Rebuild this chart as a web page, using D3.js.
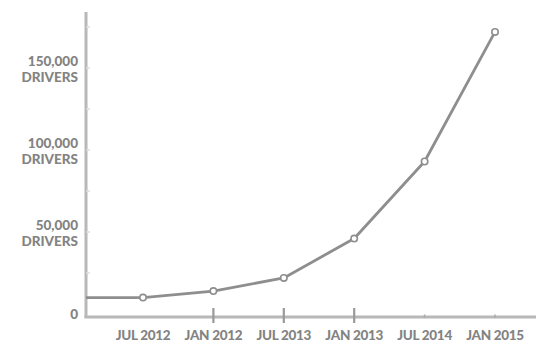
<!DOCTYPE html>
<html>
<head>
<meta charset="utf-8">
<script src="https://cdn.jsdelivr.net/npm/d3@7"></script>
<style>
  html, body { margin: 0; padding: 0; background: #fff; }
  svg { display: block; }
  .lbl { font-family: Lato, "Open Sans", sans-serif; font-weight: 900; fill: #838383; }
</style>
</head>
<body>
<svg id="chart" width="536" height="342"></svg>
<script>
// Driver counts by period
const periods = ["JUL 2012", "JAN 2012", "JUL 2013", "JAN 2013", "JUL 2014", "JAN 2015"];
const drivers = [10000, 14000, 22000, 46000, 93000, 172000];
const yTickValues = [0, 50000, 100000, 150000];
const yMinorTicks = [25000, 50000, 75000, 100000, 125000, 150000, 175000];
const majorXTicks = ["JAN 2012", "JUL 2013", "JAN 2013"];
const minorXTicks = ["JUL 2014", "JAN 2015"];

const svg = d3.select("#chart");
const axisX = 86, axisBottom = 317, axisTop = 12;

const x = d3.scalePoint().domain(periods).range([143, 495]);
const y = d3.scaleLinear().domain([0, 150000]).range([314, 68]);

const axisColor = "#b8b8b8";
const lineColor = "#8e8e8e";

// y axis line
svg.append("line")
  .attr("x1", axisX).attr("x2", axisX)
  .attr("y1", axisTop).attr("y2", axisBottom + 1)
  .attr("stroke", axisColor).attr("stroke-width", 3);

// x axis line
svg.append("line")
  .attr("x1", axisX - 1.5).attr("x2", 536)
  .attr("y1", axisBottom).attr("y2", axisBottom)
  .attr("stroke", axisColor).attr("stroke-width", 3);

// faint minor ticks on the y axis
svg.selectAll(".ytick").data(yMinorTicks).join("line")
  .attr("x1", axisX).attr("x2", axisX + 4)
  .attr("y1", d => y(d)).attr("y2", d => y(d))
  .attr("stroke", "#dcdcdc").attr("stroke-width", 1.5);

// x ticks
svg.selectAll(".xtick").data(majorXTicks).join("line")
  .attr("x1", d => x(d)).attr("x2", d => x(d))
  .attr("y1", axisBottom - 9).attr("y2", axisBottom + 6)
  .attr("stroke", "#999").attr("stroke-width", 2.2);
svg.selectAll(".xtickm").data(minorXTicks).join("line")
  .attr("x1", d => x(d)).attr("x2", d => x(d))
  .attr("y1", axisBottom - 2.5).attr("y2", axisBottom + 1)
  .attr("stroke", "#aaa").attr("stroke-width", 1.5);

// y labels
const fmt = d3.format(",");
const yl = svg.selectAll(".ylab").data(yTickValues).join("text")
  .attr("class", "lbl")
  .attr("text-anchor", "end")
  .style("font-size", "13.5px");
yl.each(function(d) {
  const t = d3.select(this);
  if (d === 0) {
    t.append("tspan").attr("x", 78).attr("y", y(d) + 4.5).text("0");
  } else {
    t.append("tspan").attr("x", 78).attr("y", y(d) - 2).text(fmt(d));
    t.append("tspan").attr("x", 78).attr("y", y(d) + 13.5).text("DRIVERS");
  }
});

// x labels
svg.selectAll(".xlab").data(periods).join("text")
  .attr("class", "lbl")
  .attr("text-anchor", "middle")
  .style("font-size", "13.5px")
  .style("letter-spacing", "-0.3px")
  .attr("x", d => x(d)).attr("y", 340)
  .text(d => d);

// data line, starting at the y axis
const pts = [[axisX, y(drivers[0])]].concat(periods.map((p, i) => [x(p), y(drivers[i])]));
svg.append("path")
  .attr("d", d3.line()(pts))
  .attr("fill", "none")
  .attr("stroke", lineColor)
  .attr("stroke-width", 2.8)
  .attr("stroke-linejoin", "round");

// point markers
svg.selectAll(".pt").data(periods).join("circle")
  .attr("cx", d => x(d)).attr("cy", (d, i) => y(drivers[i]))
  .attr("r", 3.2)
  .attr("fill", "#fff")
  .attr("stroke", lineColor)
  .attr("stroke-width", 1.6);
</script>
</body>
</html>
